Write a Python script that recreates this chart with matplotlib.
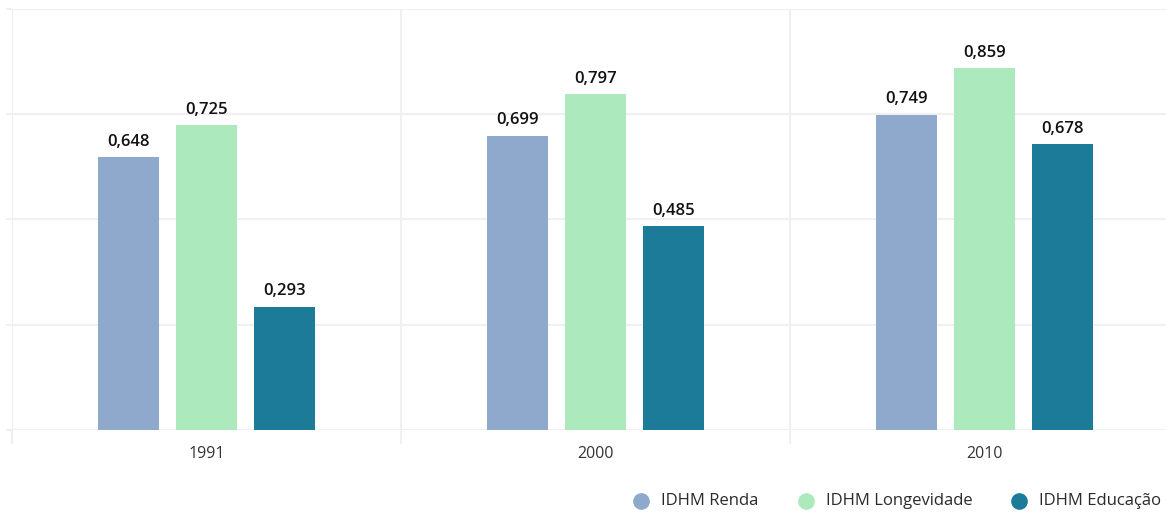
import matplotlib
matplotlib.use("Agg")
import matplotlib.pyplot as plt
import numpy as np

plt.rcParams["font.family"] = ["Open Sans", "DejaVu Sans"]

years = ["1991", "2000", "2010"]
series = ["IDHM Renda", "IDHM Longevidade", "IDHM Educação"]
renda = [0.648, 0.699, 0.749]
longevidade = [0.725, 0.797, 0.859]
educacao = [0.293, 0.485, 0.678]
values = [renda, longevidade, educacao]
colors = ["#8ea9cc", "#acEAbd", "#1b7b99"]
y_ticks = [0, 0.25, 0.5, 0.75, 1.0]

W, H = 1166, 512
fig = plt.figure(figsize=(W / 100, H / 100), dpi=100)
ax = fig.add_axes([12 / W, (H - 430) / H, 1167 / W, 421.2 / H])

grid_color = "#f0f0f0"
centers = np.arange(len(years)) + 0.5
offset = 0.2005
width = 0.159

for i, (name, vals, col) in enumerate(zip(series, values, colors)):
    xs = centers + (i - 1) * offset
    ax.bar(xs, vals, width=width, color=col, zorder=3, label=name)
    for x, v in zip(xs, vals):
        ax.annotate(f"{v:.3f}".replace(".", ","), (x, v), xytext=(0, 8),
                    textcoords="offset points", ha="center", va="baseline",
                    fontsize=12, fontweight="semibold", color="#111111",
                    zorder=4)

ax.set_xlim(0, len(years))
ax.set_ylim(0, 1)
ax.set_yticks(y_ticks)
ax.set_yticklabels([])
ax.set_xticks(centers)
ax.set_xticklabels(years, fontsize=11.5, color="#333333")
ax.set_xticks(np.arange(len(years) + 1), minor=True)
ax.tick_params(axis="x", which="major", length=0, pad=11.5)
ax.tick_params(axis="x", which="minor", length=10, width=1.5, color=grid_color)
ax.tick_params(axis="y", length=4.5, width=1.5, color=grid_color)
ax.grid(axis="y", which="major", color=grid_color, linewidth=1.5, zorder=0)
ax.grid(axis="x", which="minor", color=grid_color, linewidth=1.5, zorder=0)
for s in ax.spines.values():
    s.set_visible(False)
ax.set_axisbelow(True)

# legend along the bottom right
leg_y = (H - 501) / H
marker_x = [641, 806, 1019]
for mx, name, col in zip(marker_x, series, colors):
    fig.add_artist(plt.Line2D([mx / W], [leg_y], marker="o", markersize=11,
                              color=col, linestyle="none",
                              transform=fig.transFigure))
    fig.text((mx + 20) / W, leg_y, name, ha="left", va="center",
             fontsize=12, color="#2a2a2a")

fig.savefig("out.png", dpi=100)
